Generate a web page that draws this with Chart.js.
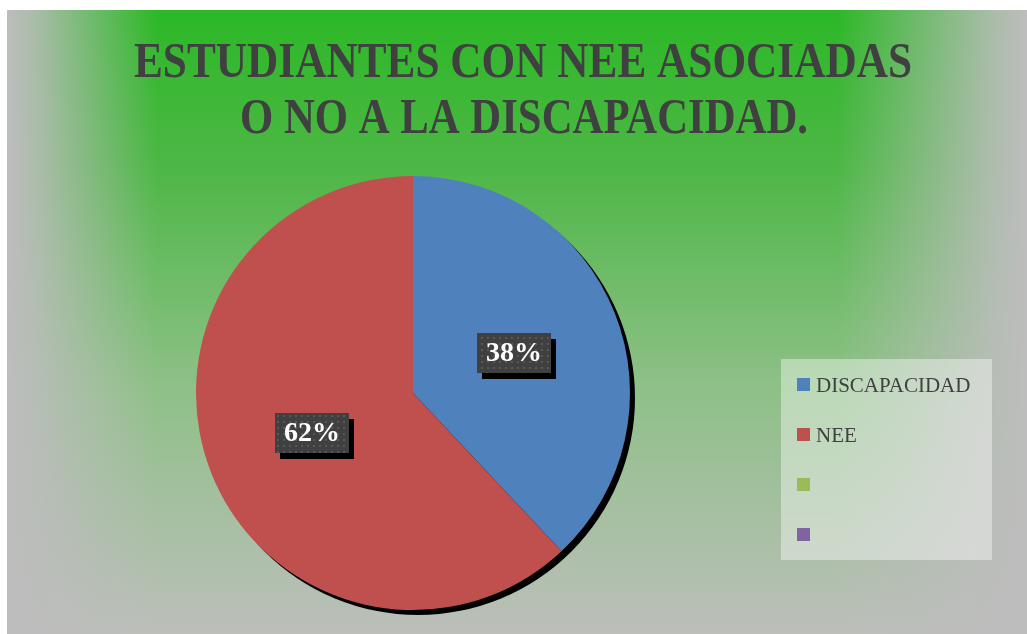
<!DOCTYPE html>
<html>
<head>
<meta charset="utf-8">
<script src="https://cdn.jsdelivr.net/npm/chart.js@4"></script>
<style>
  html, body { margin: 0; padding: 0; background: #ffffff; }
  #wrap { width: 1027px; height: 634px; position: relative; }
</style>
</head>
<body>
<div id="wrap"><canvas id="chart" width="1027" height="634"></canvas></div>
<script>
// chart values
const titleLines = ['ESTUDIANTES CON NEE ASOCIADAS', 'O NO A LA DISCAPACIDAD.'];
const categories = ['DISCAPACIDAD', 'NEE', '', ''];
const percentages = [38, 62, 0, 0];
const sliceColors = ['#4f81bd', '#c0504d', '#9bbb59', '#8064a2'];

// dark dotted fill for the data labels
function makeLabelPattern(ctx) {
    const p = document.createElement('canvas');
    p.width = 6;
    p.height = 6;
    const pc = p.getContext('2d');
    pc.fillStyle = '#404040';
    pc.fillRect(0, 0, 6, 6);
    pc.fillStyle = '#575757';
    pc.fillRect(1, 1, 2, 2);
    return ctx.createPattern(p, 'repeat');
}

const backgroundPlugin = {
    id: 'panelBackground',
    beforeDraw(chart) {
        const ctx = chart.ctx;
        const x0 = 7, y0 = 10, w = chart.width - x0, h = chart.height - y0;
        ctx.save();
        ctx.fillStyle = '#ffffff';
        ctx.fillRect(0, 0, chart.width, chart.height);

        // green at the top fading to grey at the bottom
        const v = ctx.createLinearGradient(0, y0, 0, y0 + h);
        v.addColorStop(0, '#2cb826');
        v.addColorStop(0.25, '#4db746');
        v.addColorStop(0.6, '#8ec087');
        v.addColorStop(1, '#bcbfba');
        ctx.fillStyle = v;
        ctx.fillRect(x0, y0, w, h);

        // grey side edges
        const l = ctx.createLinearGradient(x0, 0, x0 + 150, 0);
        l.addColorStop(0, 'rgba(189,189,189,1)');
        l.addColorStop(0.2, 'rgba(189,189,189,0.85)');
        l.addColorStop(1, 'rgba(189,189,189,0)');
        ctx.fillStyle = l;
        ctx.fillRect(x0, y0, 150, h);

        const r = ctx.createLinearGradient(chart.width, 0, chart.width - 190, 0);
        r.addColorStop(0, 'rgba(189,189,189,1)');
        r.addColorStop(0.2, 'rgba(189,189,189,0.85)');
        r.addColorStop(1, 'rgba(189,189,189,0)');
        ctx.fillStyle = r;
        ctx.fillRect(chart.width - 190, y0, 190, h);
        ctx.restore();
    },
    beforeDatasetsDraw(chart) {
        // drop shadow behind the pie
        const arc = chart.getDatasetMeta(0).data[0];
        if (!arc) return;
        const ctx = chart.ctx;
        ctx.save();
        ctx.fillStyle = '#000000';
        ctx.beginPath();
        ctx.arc(arc.x + 5, arc.y + 5, arc.outerRadius, 0, Math.PI * 2);
        ctx.fill();
        ctx.restore();
    }
};

const decorPlugin = {
    id: 'decor',
    afterDraw(chart) {
        const ctx = chart.ctx;
        ctx.save();

        // title
        ctx.fillStyle = '#404040';
        ctx.textAlign = 'center';
        ctx.textBaseline = 'alphabetic';
        ctx.font = 'bold 50px "Liberation Serif", serif';
        ctx.fillText(titleLines[0], 523, 77, 778);
        ctx.fillText(titleLines[1], 524, 133, 568);

        // data labels
        const pattern = makeLabelPattern(ctx);
        const meta = chart.getDatasetMeta(0);
        meta.data.forEach((arc, i) => {
            if (!percentages[i]) return;
            const pos = arc.tooltipPosition();
            const bw = 74, bh = 40;
            const bx = Math.round(pos.x - bw / 2), by = Math.round(pos.y - bh / 2);
            ctx.fillStyle = '#000000';
            ctx.fillRect(bx + 5, by + 6, bw, bh);
            ctx.fillStyle = pattern;
            ctx.fillRect(bx, by, bw, bh);
            ctx.fillStyle = '#ffffff';
            ctx.font = 'bold 28px "Liberation Serif", serif';
            ctx.textAlign = 'center';
            ctx.textBaseline = 'middle';
            ctx.fillText(percentages[i] + '%', bx + bw / 2, by + bh / 2 + 1);
        });

        // legend
        ctx.fillStyle = 'rgba(255,255,255,0.4)';
        ctx.fillRect(781, 359, 211, 201);
        ctx.font = '21px "Liberation Serif", serif';
        ctx.textAlign = 'left';
        ctx.textBaseline = 'middle';
        categories.forEach((name, i) => {
            const y = 385 + i * 50;
            ctx.fillStyle = sliceColors[i];
            ctx.fillRect(797, y - 7, 13, 13);
            ctx.fillStyle = '#404040';
            ctx.fillText(name, 816, y + 1);
        });
        ctx.restore();
    }
};

new Chart(document.getElementById('chart'), {
    type: 'pie',
    data: {
        labels: categories,
        datasets: [{
            data: percentages,
            backgroundColor: sliceColors,
            borderWidth: 0
        }]
    },
    options: {
        responsive: false,
        animation: false,
        layout: {
            padding: { left: 196, right: 397, top: 176, bottom: 24 }
        },
        plugins: {
            legend: { display: false },
            title: { display: false },
            tooltip: { enabled: false }
        }
    },
    plugins: [backgroundPlugin, decorPlugin]
});
</script>
</body>
</html>
